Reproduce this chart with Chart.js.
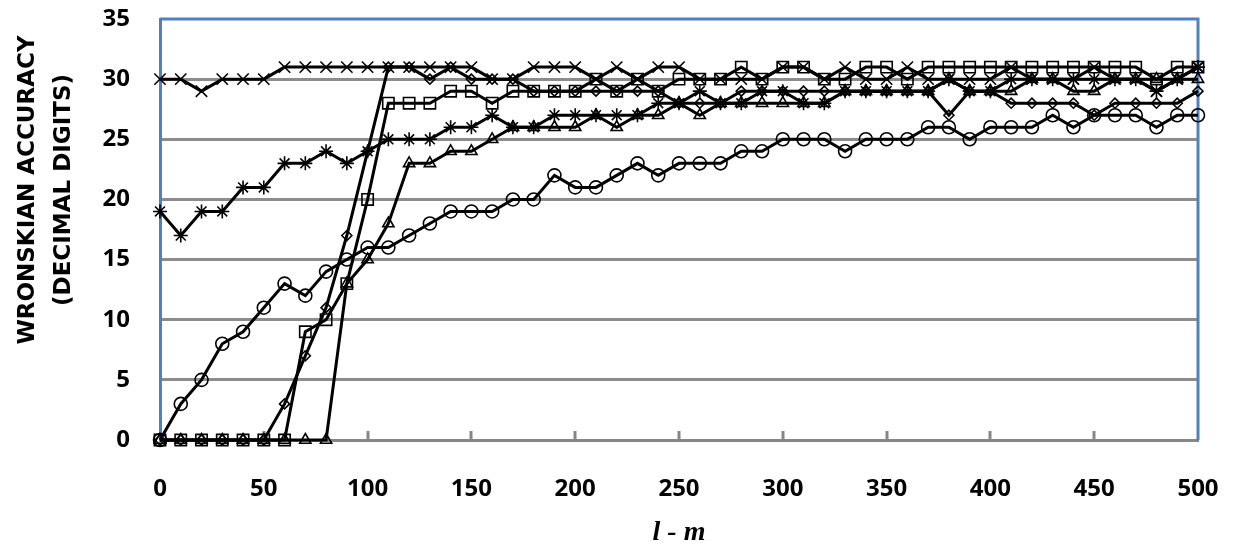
<!DOCTYPE html>
<html lang="en">
<head>
    <meta charset="UTF-8">
    <title>Wronskian accuracy</title>
    <script src="https://cdn.jsdelivr.net/npm/chart.js@4.4.1/dist/chart.umd.min.js"></script>
    <style>
        body {
            margin: 0;
            background: #fff;
        }
        #wronskianChart {
            display: block;
        }
    </style>
</head>
<body>
    <canvas id="wronskianChart" width="1238" height="547"></canvas>

    <script>
        // l - m values along the x axis
        const lm = [0, 10, 20, 30, 40, 50, 60, 70, 80, 90, 100, 110, 120, 130, 140, 150, 160, 170, 180, 190, 200,
            210, 220, 230, 240, 250, 260, 270, 280, 290, 300, 310, 320, 330, 340, 350, 360, 370, 380, 390, 400,
            410, 420, 430, 440, 450, 460, 470, 480, 490, 500];

        // accuracy (decimal digits), one list per marker style
        const circleSeries = [0, 3, 5, 8, 9, 11, 13, 12, 14, 15, 16, 16, 17, 18, 19, 19, 19, 20, 20, 22, 21,
            21, 22, 23, 22, 23, 23, 23, 24, 24, 25, 25, 25, 24, 25, 25, 25, 26, 26, 25, 26,
            26, 26, 27, 26, 27, 27, 27, 26, 27, 27];
        const diamondSeries = [0, 0, 0, 0, 0, 0, 3, 7, 11, 17, 24, 31, 31, 30, 31, 30, 30, 30, 29, 29, 29,
            29, 29, 29, 29, 28, 28, 28, 29, 29, 29, 29, 29, 29, 29, 29, 29, 29, 27, 29, 29,
            28, 28, 28, 28, 27, 28, 28, 28, 28, 29];
        const squareSeries = [0, 0, 0, 0, 0, 0, 0, 9, 10, 13, 20, 28, 28, 28, 29, 29, 28, 29, 29, 29, 29,
            30, 29, 30, 29, 30, 30, 30, 31, 30, 31, 31, 30, 30, 31, 31, 30, 31, 31, 31, 31,
            31, 31, 31, 31, 31, 31, 31, 30, 31, 31];
        const triangleSeries = [0, 0, 0, 0, 0, 0, 0, 0, 0, 13, 15, 18, 23, 23, 24, 24, 25, 26, 26, 26, 26,
            27, 26, 27, 27, 28, 27, 28, 28, 28, 28, 28, 28, 29, 29, 29, 29, 29, 30, 29, 29,
            29, 30, 30, 29, 29, 30, 30, 30, 30, 30];
        const crossSeries = [30, 30, 29, 30, 30, 30, 31, 31, 31, 31, 31, 31, 31, 31, 31, 31, 30, 30, 31, 31, 31,
            30, 31, 30, 31, 31, 30, 30, 30, 30, 31, 31, 30, 31, 30, 30, 31, 30, 30, 30, 30,
            31, 30, 30, 30, 31, 30, 30, 29, 30, 31];
        const starSeries = [19, 17, 19, 19, 21, 21, 23, 23, 24, 23, 24, 25, 25, 25, 26, 26, 27, 26, 26, 27, 27,
            27, 27, 27, 28, 28, 29, 28, 28, 29, 29, 28, 28, 29, 29, 29, 29, 29, 30, 29, 29,
            30, 30, 30, 30, 30, 30, 30, 29, 30, 31];

        const yTicks = [0, 5, 10, 15, 20, 25, 30, 35];
        const yTitle = ['WRONSKIAN ACCURACY', '(DECIMAL DIGITS)'];

        const toPoints = ys => ys.map((y, i) => ({ x: lm[i], y: y }));

        function series(values, style, radius) {
            return {
                data: toPoints(values),
                borderColor: '#000',
                borderWidth: 3,
                pointStyle: style,
                pointRadius: radius,
                pointHoverRadius: radius,
                pointBorderColor: '#000',
                pointBorderWidth: 1.6,
                pointBackgroundColor: 'transparent',
                tension: 0,
                clip: false
            };
        }

        // blue plot-area frame (top/right), inside ticks on the x axis, and the two-line y title
        const frame = {
            id: 'frame',
            beforeDatasetsDraw(chart) {
                const { ctx, chartArea: a, scales } = chart;
                ctx.save();
                ctx.strokeStyle = '#4F81BD';
                ctx.lineWidth = 3;
                ctx.beginPath();
                ctx.moveTo(a.left, a.top);
                ctx.lineTo(a.right, a.top);
                ctx.lineTo(a.right, a.bottom);
                ctx.stroke();

                ctx.strokeStyle = '#868686';
                scales.x.ticks.forEach(t => {
                    if (t.value === 0 || t.value === 500) return;
                    const px = Math.round(scales.x.getPixelForValue(t.value));
                    ctx.beginPath();
                    ctx.moveTo(px, a.bottom);
                    ctx.lineTo(px, a.bottom - 9);
                    ctx.stroke();
                });

                // y axis title sits a bit above the plot's middle, as in the source
                ctx.fillStyle = '#000';
                ctx.font = 'bold 23px "DejaVu Sans"';
                ctx.textAlign = 'center';
                ctx.textBaseline = 'middle';
                ctx.translate(28, 190);
                ctx.rotate(-Math.PI / 2);
                ctx.fillText(yTitle[0], 0, 0);
                ctx.fillText(yTitle[1], 0, 36);
                ctx.restore();
            }
        };

        const tickFont = { family: 'Open Sans', weight: 'bold', size: 24 };

        new Chart(document.getElementById('wronskianChart'), {
            type: 'line',
            data: {
                datasets: [
                    series(circleSeries, 'circle', 6.5),
                    series(diamondSeries, 'rectRot', 5),
                    series(squareSeries, 'rect', 8),
                    series(triangleSeries, 'triangle', 6.5),
                    series(crossSeries, 'crossRot', 8),
                    series(starSeries, 'star', 7)
                ]
            },
            options: {
                responsive: false,
                animation: false,
                devicePixelRatio: 1,
                layout: { padding: { top: 19, right: 40, left: 9, bottom: 0 } },
                plugins: {
                    legend: { display: false },
                    tooltip: { enabled: false }
                },
                scales: {
                    x: {
                        type: 'linear',
                        min: 0,
                        max: 500,
                        ticks: { stepSize: 50, font: tickFont, color: '#000', padding: 27, maxRotation: 0 },
                        grid: { display: false },
                        border: { display: true, color: '#868686', width: 3 },
                        title: {
                            display: true,
                            text: 'l - m',
                            color: '#000',
                            font: { family: 'Liberation Serif', style: 'italic', weight: 'bold', size: 28, lineHeight: 1 },
                            padding: 0
                        },
                        afterFit(scale) {
                            scale.height = 107;
                            scale.paddingLeft = 0;
                            scale.paddingRight = 0;
                        }
                    },
                    y: {
                        min: 0,
                        max: 35,
                        afterBuildTicks(scale) { scale.ticks = yTicks.map(v => ({ value: v })); },
                        ticks: { font: tickFont, color: '#000', padding: 30 },
                        grid: {
                            color: c => (c.tick && (c.tick.value === 0 || c.tick.value === 35)) ? 'rgba(0,0,0,0)' : '#8c8c8c',
                            lineWidth: 3,
                            drawTicks: false
                        },
                        border: { display: true, color: '#4F81BD', width: 3 },
                        afterFit(scale) {
                            scale.width = 151;
                            scale.paddingTop = 0;
                            scale.paddingBottom = 0;
                        }
                    }
                }
            },
            plugins: [frame]
        });
    </script>
</body>
</html>
